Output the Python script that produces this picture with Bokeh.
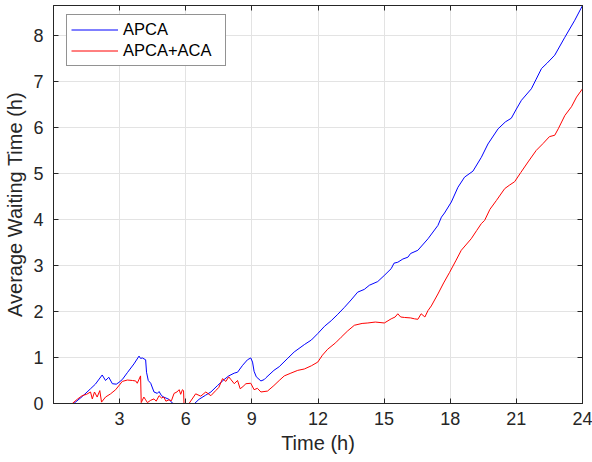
from bokeh.plotting import figure
from bokeh.models import (Range1d, LinearAxis, FixedTicker, Legend, LegendItem,
                          CustomLabelingPolicy)
from bokeh.embed import file_html
from bokeh.resources import INLINE

# ---------------- data ----------------
apca_t = [0, 0.92, 1.3, 1.68, 1.9, 2.21, 2.36, 2.51, 2.67, 2.85, 2.97, 3.12, 3.35, 3.65, 3.88,
          3.95, 4.03, 4.18, 4.22, 4.3, 4.41, 4.56, 4.71, 4.79, 4.9, 5.0, 5.24, 5.39, 5.45,
          6.4, 6.6, 6.9, 7.14, 7.44, 7.74, 7.95, 8.2, 8.35, 8.58, 8.8, 8.95, 9.03, 9.1, 9.2,
          9.41, 9.56, 9.64, 10.0, 10.24, 10.6, 10.92, 11.38, 11.7, 11.99, 12.3, 12.6, 12.9,
          13.2, 13.5, 13.8, 14.1, 14.33, 14.71, 15.0, 15.32, 15.45, 15.62, 15.85, 16.08, 16.2,
          16.53, 16.99, 17.44, 17.6, 17.74, 18.05, 18.35, 18.65, 19.03, 19.41, 19.71, 20.17,
          20.5, 20.77, 21.0, 21.23, 21.68, 21.9, 22.14, 22.4, 22.74, 23.2, 23.65, 24.0]
apca_y = [0, 0, 0.15, 0.32, 0.42, 0.62, 0.5, 0.57, 0.43, 0.42, 0.46, 0.52, 0.67, 0.86, 1.03,
          0.98, 0.99, 0.95, 0.68, 0.5, 0.44, 0.25, 0.22, 0.26, 0.17, 0.14, 0.09, 0.01, 0,
          0, 0.09, 0.18, 0.25, 0.39, 0.52, 0.6, 0.66, 0.68, 0.83, 0.95, 0.99, 0.9, 0.7, 0.58,
          0.49, 0.52, 0.56, 0.72, 0.8, 0.97, 1.12, 1.28, 1.38, 1.52, 1.68, 1.8, 1.94,
          2.09, 2.25, 2.42, 2.48, 2.57, 2.65, 2.78, 2.93, 3.05, 3.07, 3.14, 3.18, 3.26,
          3.33, 3.58, 3.87, 4.05, 4.14, 4.38, 4.7, 4.92, 5.05, 5.35, 5.64, 5.97,
          6.12, 6.2, 6.4, 6.59, 6.84, 7.05, 7.28, 7.4, 7.57, 7.96, 8.33, 8.65]

aca_t = [0, 0.85, 1.1, 1.3, 1.5, 1.68, 1.76, 1.86, 1.98, 2.1, 2.18, 2.36, 2.59, 2.82, 3.12,
         3.35, 3.58, 3.73, 3.8, 3.95, 3.98, 4.1, 4.18, 4.26, 4.41, 4.56, 4.66, 4.79, 4.9,
         5.0, 5.1, 5.24, 5.35, 5.47, 5.6, 5.7, 5.77, 5.85, 5.9, 5.92, 6.15, 6.45, 6.68,
         6.91, 7.14, 7.36, 7.5, 7.67, 7.82, 7.95, 8.05, 8.2, 8.35, 8.47, 8.6, 8.73, 8.95,
         9.1, 9.25, 9.41, 9.71, 10.0, 10.24, 10.47, 10.77, 11.08, 11.38, 11.7, 11.99, 12.2,
         12.44, 12.8, 13.05, 13.35, 13.65, 14.0, 14.26, 14.6, 15.01, 15.32, 15.5, 15.62,
         15.75, 15.92, 16.2, 16.38, 16.53, 16.68, 16.85, 16.99, 17.14, 17.44, 17.7, 17.97,
         18.25, 18.5, 18.95, 19.2, 19.41, 19.56, 19.8, 20.09, 20.47, 20.7, 20.92, 21.2,
         21.53, 21.9, 22.21, 22.5, 22.74, 22.9, 23.2, 23.5, 23.73, 24.0]
aca_y = [0, 0, 0.1, 0.17, 0.2, 0.25, 0.1, 0.25, 0.14, 0.28, 0.03, 0.14, 0.21, 0.3, 0.48,
         0.51, 0.5, 0.49, 0.44, 0.6, 0.02, 0.14, 0.08, 0.02, 0.07, 0.1, 0.05, 0.17, 0.12,
         0.14, 0.05, 0.08, 0.06, 0.22, 0.25, 0.3, 0.2, 0.3, 0.28, 0, 0, 0.21, 0.16,
         0.25, 0.17, 0.28, 0.35, 0.54, 0.48, 0.58, 0.52, 0.43, 0.5, 0.32, 0.37, 0.43, 0.44,
         0.3, 0.33, 0.25, 0.27, 0.39, 0.5, 0.6, 0.66, 0.72, 0.75, 0.82, 0.9, 1.05,
         1.18, 1.32, 1.44, 1.58, 1.7, 1.74, 1.75, 1.77, 1.75, 1.84, 1.88, 1.95,
         1.88, 1.87, 1.86, 1.84, 1.83, 1.95, 1.88, 2.02, 2.12, 2.38, 2.62, 2.85,
         3.1, 3.33, 3.58, 3.76, 3.91, 3.98, 4.22, 4.41, 4.67, 4.75, 4.82, 5.02,
         5.25, 5.5, 5.65, 5.8, 5.83, 5.97, 6.26, 6.45, 6.66, 6.84]

x_ticks = [3, 6, 9, 12, 15, 18, 21, 24]
y_ticks = [0, 1, 2, 3, 4, 5, 6, 7, 8]
series_names = ["APCA", "APCA+ACA"]
series_colors = ["#0000ff", "#ff0000"]

# ---------------- figure ----------------
FONT = "Liberation Sans"
DARK = "#262626"

p = figure(width=592, height=462, output_backend="svg", toolbar_location=None,
           x_range=Range1d(0, 24), y_range=Range1d(0, 8.65),
           min_border_left=53, min_border_right=10, min_border_top=5, min_border_bottom=59,
           x_axis_label="Time (h)", y_axis_label="Average Waiting Time (h)")
p.background_fill_color = "white"
p.border_fill_color = "white"
p.outline_line_color = DARK
p.outline_line_width = 1

for ax, ticks in ((p.xaxis[0], x_ticks), (p.yaxis[0], y_ticks)):
    ax.ticker = FixedTicker(ticks=ticks)
    ax.axis_line_color = DARK
    ax.major_tick_line_color = DARK
    ax.major_tick_in = 5
    ax.major_tick_out = 0
    ax.minor_tick_line_color = None
    ax.major_label_text_font = FONT
    ax.major_label_text_font_size = "18px"
    ax.major_label_text_color = DARK
    ax.axis_label_text_font = FONT
    ax.axis_label_text_font_size = "20px"
    ax.axis_label_text_font_style = "normal"
    ax.axis_label_text_color = DARK

p.xaxis.major_label_standoff = 8
p.xaxis.axis_label_standoff = 4
p.yaxis.major_label_standoff = 10
p.yaxis.axis_label_standoff = 4

# mirror ticks on top and right, without labels
no_labels = CustomLabelingPolicy(code="return new indices.constructor(indices.size)")
top = LinearAxis(ticker=FixedTicker(ticks=x_ticks), major_label_policy=no_labels,
                 major_label_text_font_size="1px", major_label_standoff=0,
                 major_tick_in=5, major_tick_out=0,
                 minor_tick_line_color=None, axis_line_color=DARK, major_tick_line_color=DARK)
right = LinearAxis(ticker=FixedTicker(ticks=y_ticks), major_label_policy=no_labels,
                   major_label_text_font_size="1px", major_label_standoff=0,
                   major_tick_in=5, major_tick_out=0,
                   minor_tick_line_color=None, axis_line_color=DARK, major_tick_line_color=DARK)
p.add_layout(top, "above")
p.add_layout(right, "right")

p.xgrid.ticker = FixedTicker(ticks=x_ticks)
p.ygrid.ticker = FixedTicker(ticks=y_ticks)
p.xgrid.grid_line_color = "#e3e3e3"
p.ygrid.grid_line_color = "#e3e3e3"
p.xgrid.grid_line_width = 1
p.ygrid.grid_line_width = 1

r1 = p.line(apca_t, apca_y, line_color=series_colors[0], line_width=1)
r2 = p.line(aca_t, aca_y, line_color=series_colors[1], line_width=1)

legend = Legend(items=[LegendItem(label=series_names[0], renderers=[r1]),
                       LegendItem(label=series_names[1], renderers=[r2])],
                location=(13, 337))
legend.label_text_font = FONT
legend.label_text_font_size = "16.5px"
legend.label_text_color = "black"
legend.border_line_color = DARK
legend.border_line_width = 1
legend.background_fill_color = "white"
legend.background_fill_alpha = 1
legend.padding = 4
legend.margin = 0
legend.spacing = 0
legend.glyph_width = 47
legend.glyph_height = 21
legend.label_height = 21
legend.label_width = 98
legend.label_standoff = 5
p.add_layout(legend, "center")

open("out.html", "w").write(file_html(p, INLINE))
